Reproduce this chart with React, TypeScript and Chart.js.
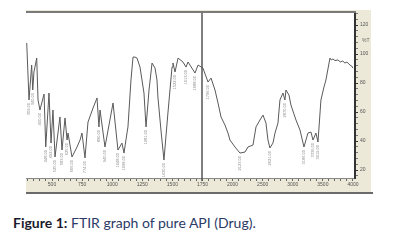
import React, { useEffect, useRef } from 'react';
import { Chart, registerables } from 'chart.js';

Chart.register(...registerables);

// FTIR spectrum readings (wavenumber in 1/cm, transmittance in %T)
const wavenumbers = [
  290, 309, 331, 340, 350, 373, 384, 400, 434, 448, 475, 492, 508, 525, 566, 583, 608, 625, 633, 666,
  708, 733, 749, 774, 799, 841, 874, 890, 899, 940, 1007, 1048, 1081, 1098, 1123, 1131, 1156, 1173, 1189, 1206,
  1231, 1264, 1281, 1306, 1331, 1356, 1372, 1380, 1405, 1430, 1463, 1497, 1505, 1522, 1547, 1588, 1613, 1630, 1688, 1713,
  1754, 1796, 1821, 1854, 1879, 1904, 1937, 1962, 1978, 2040, 2123, 2207, 2256, 2339, 2389, 2455, 2505, 2555, 2588, 2621,
  2671, 2705, 2754, 2787, 2837, 2870, 2887, 2937, 2970, 3053, 3120, 3186, 3252, 3302, 3336, 3385, 3419, 3468, 3518, 3551,
  3618, 3640, 3668, 3700, 3751, 3790, 3830, 3867, 3900, 3950, 3980, 4000,
];
const transmittance = [
  107.6, 68.3, 92.4, 75.2, 87.6, 97.2, 68.3, 61.4, 72.4, 35.9, 73.1, 38.6, 61.4, 29.0, 56.6, 33.8, 55.9, 40.7, 45.5, 29.0,
  35.9, 40.7, 45.5, 28.3, 53.1, 62.8, 69.7, 49.7, 61.4, 35.9, 66.2, 33.8, 38.6, 31.7, 45.5, 49.7, 82.1, 97.9, 97.9, 97.2,
  91.0, 73.1, 49.7, 75.2, 93.8, 90.3, 82.1, 70.3, 47.6, 26.9, 59.3, 91.0, 93.8, 87.6, 97.2, 94.5, 91.0, 94.5, 86.9, 92.4,
  90.3, 80.7, 83.4, 75.2, 66.2, 56.6, 51.0, 45.5, 40.7, 35.9, 31.7, 32.4, 35.9, 37.2, 49.7, 54.5, 57.9, 52.4, 40.7, 35.2,
  38.6, 45.5, 52.4, 68.3, 73.1, 68.3, 75.2, 71.7, 64.8, 54.5, 47.6, 35.9, 45.5, 46.2, 40.7, 45.5, 39.3, 68.3, 77.2, 82.1,
  97.2, 95.9, 96.6, 95.5, 95.9, 94.5, 95.2, 93.8, 94.5, 92.4, 91.7, 90.3,
];

const xTickValues = [500, 750, 1000, 1250, 1500, 1750, 2000, 2500, 3000, 3500, 4000];
const yTickValues = [20, 40, 60, 80, 100, 120];
const markerWavenumbers = [1750];
const yAxisTitle = '%T';
const captionBold = 'Figure 1:';
const captionText = ' FTIR graph of pure API (Drug).';

// axis scale: 2x expansion below 2000 1/cm
const BREAK = 2000;
const toAxis = (w: number) => (w <= BREAK ? w : BREAK + (w - BREAK) / 2);

const X_MIN_W = 284;
const X_MAX_W = 4034;
const Y_MIN = 14.5;
const Y_MAX = 128.3;

const frame = {
  id: 'frame',
  beforeDraw(chart: any) {
    const { ctx, chartArea } = chart;
    ctx.save();
    ctx.fillStyle = '#ffffff';
    ctx.fillRect(0, 0, chart.width, chart.height);
    ctx.fillStyle = '#ECE9D8';
    ctx.fillRect(chartArea.left, 10, chartArea.right + 16 - chartArea.left, chartArea.bottom + 14 - 10);
    ctx.fillStyle = '#ffffff';
    ctx.fillRect(chartArea.left, chartArea.top, chartArea.right - chartArea.left, chartArea.bottom - chartArea.top);
    ctx.restore();
  },
  afterDraw(chart: any) {
    const { ctx, chartArea } = chart;
    const xs = chart.scales.x;
    const ys = chart.scales.y;
    ctx.save();
    // top frame line
    ctx.strokeStyle = '#7a7a7a';
    ctx.lineWidth = 2;
    ctx.beginPath();
    ctx.moveTo(chartArea.left, chartArea.top - 1);
    ctx.lineTo(chartArea.right + 1, chartArea.top - 1);
    ctx.stroke();
    // bottom frame line
    ctx.strokeStyle = '#6a6a6a';
    ctx.lineWidth = 2;
    ctx.beginPath();
    ctx.moveTo(chartArea.left, chartArea.bottom + 15);
    ctx.lineTo(chartArea.right + 18, chartArea.bottom + 15);
    ctx.stroke();
    // marker line
    ctx.strokeStyle = '#555';
    ctx.lineWidth = 1.5;
    markerWavenumbers.forEach((w) => {
      const px = Math.round(xs.getPixelForValue(toAxis(w)));
      ctx.beginPath();
      ctx.moveTo(px, chartArea.top);
      ctx.lineTo(px, chartArea.bottom + 3);
      ctx.stroke();
    });
    // peak labels under local minima
    ctx.fillStyle = '#8c8c8c';
    ctx.font = '4px "Liberation Sans"';
    ctx.textAlign = 'right';
    ctx.textBaseline = 'middle';
    for (let i = 1; i < transmittance.length - 1; i++) {
      const t = transmittance[i];
      if (t < transmittance[i - 1] && t < transmittance[i + 1] && t < 92) {
        const px = xs.getPixelForValue(toAxis(wavenumbers[i]));
        const py = ys.getPixelForValue(t);
        ctx.save();
        ctx.translate(px, py + 3);
        ctx.rotate(-Math.PI / 2);
        ctx.fillText(wavenumbers[i].toFixed(2), 0, 0);
        ctx.restore();
      }
    }
    // y axis title
    ctx.fillStyle = '#666';
    ctx.font = '5px "Liberation Sans"';
    ctx.textAlign = 'left';
    ctx.textBaseline = 'middle';
    ctx.fillText(yAxisTitle, chartArea.right + 7, ys.getPixelForValue(109));
    ctx.restore();
  },
};

export default function App() {
  const ref = useRef<HTMLCanvasElement | null>(null);

  useEffect(() => {
    document.body.style.margin = '0';
    if (!ref.current) return;
    const points = wavenumbers.map((w, i) => ({ x: toAxis(w), y: transmittance[i] }));
    const xTicks: number[] = [];
    for (let u = 300; u <= 3000; u += 50) xTicks.push(u);
    const yTicks: number[] = [];
    for (let v = 16; v <= 128; v += 4) yTicks.push(v);

    const chart = new Chart(ref.current, {
      type: 'line',
      data: {
        datasets: [
          {
            data: points,
            borderColor: '#5a5a5a',
            borderWidth: 1,
            pointRadius: 0,
            tension: 0,
            fill: false,
          },
        ],
      },
      options: {
        animation: false,
        responsive: false,
        events: [],
        layout: { padding: { left: 26, top: 13, right: 27, bottom: 8 } },
        plugins: { legend: { display: false }, tooltip: { enabled: false } },
        scales: {
          x: {
            type: 'linear',
            position: 'bottom',
            min: toAxis(X_MIN_W),
            max: toAxis(X_MAX_W),
            afterBuildTicks: (s: any) => {
              s.ticks = xTicks.map((v) => ({ value: v }));
            },
            afterFit: (s: any) => {
              s.height = 14;
              s.paddingLeft = 0;
              s.paddingRight = 0;
            },
            ticks: {
              autoSkip: false,
              maxRotation: 0,
              minRotation: 0,
              padding: 1,
              color: '#555',
              font: { size: 5, family: 'Liberation Sans' },
              callback: (v: any) => {
                const match = xTickValues.find((w) => toAxis(w) === v);
                return match !== undefined ? String(match) : '';
              },
            },
            grid: { drawOnChartArea: false, drawTicks: true, tickLength: 3, tickColor: '#666' },
            border: { display: true, color: '#888', width: 1 },
          },
          y: {
            type: 'linear',
            position: 'right',
            min: Y_MIN,
            max: Y_MAX,
            afterBuildTicks: (s: any) => {
              s.ticks = yTicks.map((v) => ({ value: v }));
            },
            afterFit: (s: any) => {
              s.width = 16;
              s.paddingTop = 0;
              s.paddingBottom = 0;
            },
            ticks: {
              autoSkip: false,
              padding: 2,
              color: '#555',
              font: { size: 5, family: 'Liberation Sans' },
              callback: (v: any) => (yTickValues.includes(v) ? String(v) : ''),
            },
            grid: {
              drawOnChartArea: false,
              drawTicks: true,
              tickLength: 3,
              tickColor: (c: any) => (c.tick && yTickValues.includes(c.tick.value) ? '#333' : '#777'),
            },
            border: { display: true, color: '#333', width: 2 },
          },
        },
      },
      plugins: [frame],
    });
    return () => chart.destroy();
  }, []);

  return (
    <div style={{ position: 'relative', width: 398, height: 245, background: '#fff', overflow: 'hidden' }}>
      <canvas ref={ref} width={398} height={200} style={{ position: 'absolute', left: 0, top: 0 }} />
      <div
        style={{
          position: 'absolute',
          left: 13,
          top: 214,
          fontFamily: 'Lato, "Open Sans", sans-serif',
          fontSize: 14,
          color: '#2b3a67',
          whiteSpace: 'nowrap',
        }}
      >
        <span style={{ fontWeight: 700, color: '#1c1c2e' }}>{captionBold}</span>
        {captionText}
      </div>
    </div>
  );
}
